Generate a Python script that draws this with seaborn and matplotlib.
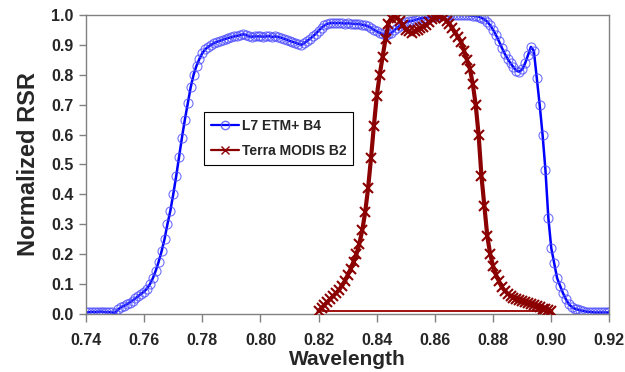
import numpy as np
import pandas as pd
import matplotlib
matplotlib.use("Agg")
import matplotlib.pyplot as plt
import seaborn as sns

# ---- data ----
l7_start, l7_step = 0.740, 0.001
l7_rsr = [
    0.005, 0.006, 0.007, 0.006, 0.007, 0.008, 0.007, 0.006, 0.006, 0.005,
    0.004, 0.015, 0.022, 0.027, 0.032, 0.038, 0.045, 0.052, 0.060, 0.068,
    0.075, 0.085, 0.100, 0.120, 0.145, 0.175, 0.210, 0.250, 0.300, 0.345,
    0.400, 0.460, 0.525, 0.590, 0.650, 0.705, 0.758, 0.800, 0.830, 0.853,
    0.872, 0.885, 0.893, 0.900, 0.905, 0.910, 0.913, 0.917, 0.920, 0.923,
    0.925, 0.928, 0.930, 0.932, 0.935, 0.933, 0.928, 0.927, 0.928, 0.928,
    0.928, 0.927, 0.928, 0.929, 0.926, 0.928, 0.926, 0.924, 0.920, 0.917,
    0.913, 0.910, 0.907, 0.903, 0.900, 0.905, 0.913, 0.920, 0.928, 0.937,
    0.947, 0.957, 0.965, 0.970, 0.972, 0.973, 0.972, 0.973, 0.972, 0.971,
    0.972, 0.971, 0.970, 0.970, 0.969, 0.967, 0.965, 0.962, 0.957, 0.950,
    0.945, 0.940, 0.935, 0.933, 0.935, 0.940, 0.948, 0.957, 0.964, 0.970,
    0.975, 0.978, 0.980, 0.982, 0.985, 0.988, 0.990, 0.990, 0.992, 0.994,
    0.996, 0.997, 0.998, 0.998, 0.997, 0.998, 0.999, 1.000, 1.000, 0.999,
    1.000, 0.999, 0.998, 0.997, 0.996, 0.994, 0.990, 0.985, 0.977, 0.965,
    0.950, 0.932, 0.912, 0.890, 0.870, 0.853, 0.838, 0.825, 0.813, 0.810,
    0.818, 0.838, 0.865, 0.893, 0.880, 0.790, 0.700, 0.600, 0.480, 0.320,
    0.220, 0.170, 0.120, 0.095, 0.070, 0.050, 0.033, 0.024, 0.018, 0.015,
    0.012, 0.010, 0.008, 0.007, 0.006, 0.005, 0.005, 0.005, 0.005, 0.005,
    0.005,
]
l7_wl = list(np.round(l7_start + l7_step * np.arange(len(l7_rsr)), 3))

modis_start, modis_step = 0.820, 0.001
modis_rsr = [
    0.010, 0.020, 0.030, 0.040, 0.050, 0.060, 0.070, 0.080, 0.095, 0.110,
    0.130, 0.150, 0.175, 0.200, 0.235, 0.280, 0.340, 0.420, 0.520, 0.630,
    0.730, 0.800, 0.860, 0.920, 0.970, 0.990, 0.995, 0.990, 0.980, 0.965,
    0.950, 0.945, 0.940, 0.945, 0.950, 0.955, 0.960, 0.965, 0.975, 0.985,
    0.990, 0.995, 0.995, 0.990, 0.980, 0.970, 0.955, 0.940, 0.925, 0.910,
    0.880, 0.850, 0.820, 0.770, 0.700, 0.600, 0.460, 0.360, 0.260, 0.200,
    0.160, 0.130, 0.110, 0.090, 0.078, 0.068, 0.060, 0.055, 0.050, 0.047,
    0.043, 0.040, 0.037, 0.033, 0.030, 0.025, 0.022, 0.018, 0.015, 0.013,
    0.010,
]
modis_wl = list(np.round(modis_start + modis_step * np.arange(len(modis_rsr)), 3))
# the series closes back to its start along the baseline
modis_close_wl = [0.821]
modis_close_rsr = [0.010]

series_names = ["L7 ETM+ B4", "Terra MODIS B2"]
x_ticks = [0.74, 0.76, 0.78, 0.80, 0.82, 0.84, 0.86, 0.88, 0.90, 0.92]
y_ticks = [0.0, 0.1, 0.2, 0.3, 0.4, 0.5, 0.6, 0.7, 0.8, 0.9, 1.0]

df_l7 = pd.DataFrame({"wl": l7_wl, "rsr": l7_rsr})
df_modis = pd.DataFrame({"wl": modis_wl, "rsr": modis_rsr})
df_close = pd.DataFrame({"wl": modis_wl[-1:] + modis_close_wl,
                         "rsr": modis_rsr[-1:] + modis_close_rsr})

# ---- style ----
sns.set_style("white")
plt.rcParams["font.family"] = ["Liberation Sans", "DejaVu Sans"]
plt.rcParams["font.weight"] = "bold"

fig = plt.figure(figsize=(6.25, 3.72), dpi=100)
ax = fig.add_axes([0.1376, 0.156, 0.8375, 0.804])

blue = "#0000FF"
red = "#8B0000"

sns.lineplot(data=df_close, x="wl", y="rsr", ax=ax, sort=False,
             estimator=None, color="#A01010", linewidth=1.4, zorder=3)
sns.lineplot(data=df_modis, x="wl", y="rsr", ax=ax, sort=False,
             estimator=None, color=red, linewidth=3.0, marker="x",
             markersize=7, markeredgewidth=1.5, markeredgecolor=red,
             label=series_names[1], zorder=3)
sns.lineplot(data=df_l7, x="wl", y="rsr", ax=ax, sort=False,
             estimator=None, color=blue, linewidth=1.8, marker="o",
             markersize=6.5, markerfacecolor="none",
             markeredgecolor=(0.3, 0.3, 1.0, 0.8),
             markeredgewidth=0.8, label=series_names[0], zorder=2)

ax.set_xlim(0.74, 0.92)
ax.set_ylim(0.0, 1.0)
ax.set_xticks(x_ticks)
ax.set_xticklabels([f"{v:.2f}" for v in x_ticks])
ax.set_yticks(y_ticks)
ax.set_yticklabels([f"{v:.1f}" for v in y_ticks])

for s in ax.spines.values():
    s.set_color("#808080")
    s.set_linewidth(1.0)
ax.tick_params(axis="x", direction="out", length=6, width=1, color="#808080",
               labelsize=11.5, pad=8, bottom=True)
ax.tick_params(axis="y", direction="out", length=5, width=1, color="#808080",
               labelsize=11.5, pad=4, left=True)
for lab in ax.get_xticklabels() + ax.get_yticklabels():
    lab.set_fontweight("bold")

ax.set_xlabel("Wavelength", fontsize=15, fontweight="bold", labelpad=1)
ax.set_ylabel("Normalized RSR", fontsize=17, fontweight="bold", labelpad=8)

handles, labels = ax.get_legend_handles_labels()
order = [labels.index(n) for n in series_names]
leg = ax.legend([handles[i] for i in order], [labels[i] for i in order],
                loc="upper left", bbox_to_anchor=(0.226, 0.676),
                borderaxespad=0, frameon=True, fancybox=False,
                edgecolor="black", framealpha=1, handlelength=2.0,
                handletextpad=0.2, borderpad=0.5, labelspacing=0.8,
                prop={"weight": "bold", "size": 10})
leg.get_frame().set_linewidth(0.8)
for h in leg.legend_handles:
    h.set_linewidth(1.6)
    h.set_markersize(6)
    h.set_markeredgewidth(1.0)

fig.savefig("out.png", dpi=100)
